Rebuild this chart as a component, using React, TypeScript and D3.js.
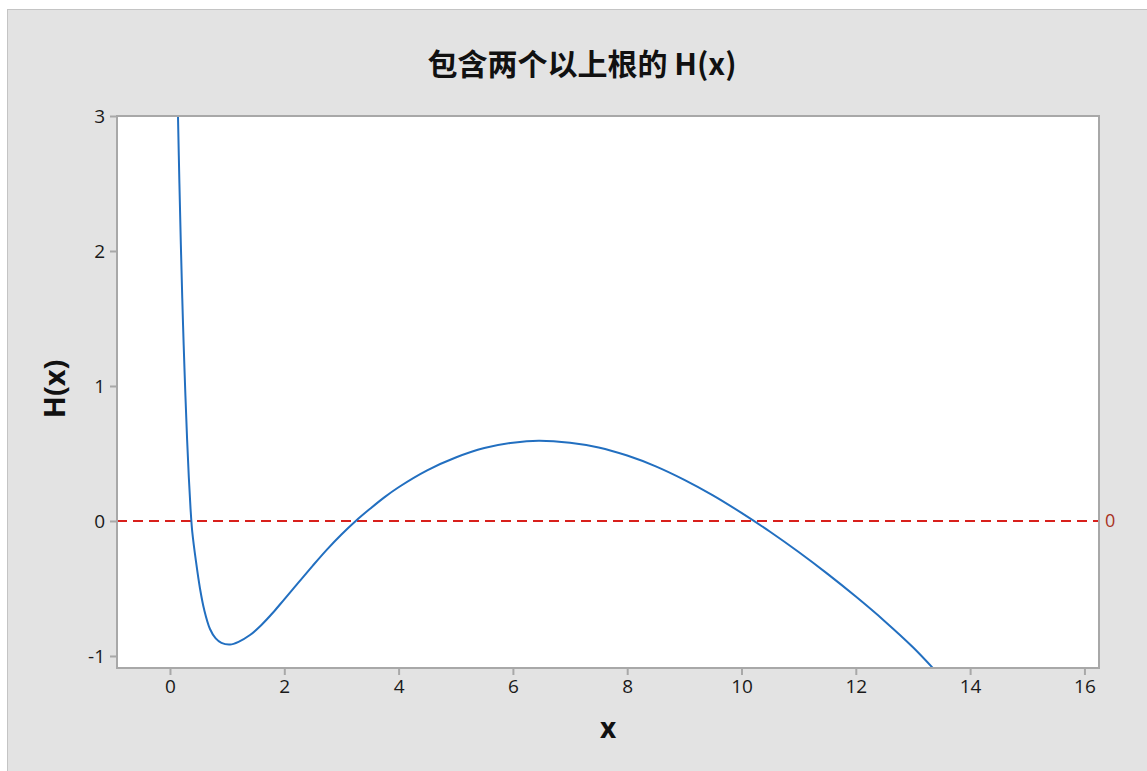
import React, { useEffect, useRef } from "react";
import * as d3 from "d3";

// H(x) values
const curveX = [
  0.14, 0.165, 0.19, 0.215, 0.24, 0.27, 0.3, 0.33, 0.36, 0.39, 0.455, 0.525,
  0.6, 0.7, 0.8, 0.9, 1.05, 1.2, 1.4, 1.6, 1.8, 2.0, 2.25, 2.5, 2.75, 3.0,
  3.25, 3.5, 3.75, 4.0, 4.5, 5.0, 5.5, 6.0, 6.45, 7.0, 7.5, 8.0, 8.5, 9.0,
  9.5, 10.0, 10.5, 11.0, 11.5, 12.0, 12.5, 13.0, 13.35,
];
const curveY = [
  3.0, 2.5, 2.05, 1.65, 1.3, 0.93, 0.6, 0.32, 0.09, -0.08, -0.3, -0.5, -0.66,
  -0.8, -0.87, -0.903, -0.915, -0.895, -0.845, -0.77, -0.68, -0.58, -0.455,
  -0.33, -0.21, -0.1, 0.0, 0.09, 0.175, 0.25, 0.375, 0.47, 0.54, 0.58, 0.595,
  0.58, 0.545, 0.485, 0.405, 0.305, 0.19, 0.06, -0.08, -0.23, -0.39, -0.56,
  -0.74, -0.935, -1.09,
];
const xTicks = [0, 2, 4, 6, 8, 10, 12, 14, 16];
const yTicks = [-1, 0, 1, 2, 3];
const refLines = [0];

const W = 1147;
const H = 771;
const plot = { left: 117, right: 1099, top: 116, bottom: 668 };

const App = () => {
  const ref = useRef<SVGSVGElement>(null);

  useEffect(() => {
    const svg = d3.select(ref.current);
    svg.selectAll("*").remove();

    const x = d3
      .scaleLinear()
      .domain([-0.927, 16.255])
      .range([plot.left, plot.right]);
    const y = d3
      .scaleLinear()
      .domain([-1.089, 3])
      .range([plot.bottom, plot.top]);

    // outer panel
    svg
      .append("rect")
      .attr("x", 7.5)
      .attr("y", 9.5)
      .attr("width", W)
      .attr("height", H)
      .attr("fill", "#e3e3e3")
      .attr("stroke", "#c4c4c4");

    svg
      .append("rect")
      .attr("x", plot.left)
      .attr("y", plot.top)
      .attr("width", plot.right - plot.left)
      .attr("height", plot.bottom - plot.top)
      .attr("fill", "#ffffff");

    svg
      .append("defs")
      .append("clipPath")
      .attr("id", "plotclip")
      .append("rect")
      .attr("x", plot.left)
      .attr("y", plot.top)
      .attr("width", plot.right - plot.left)
      .attr("height", plot.bottom - plot.top);

    // reference line
    refLines.forEach((v) => {
      svg
        .append("line")
        .attr("x1", plot.left)
        .attr("x2", plot.right)
        .attr("y1", y(v))
        .attr("y2", y(v))
        .attr("stroke", "#d8201c")
        .attr("stroke-width", 2)
        .attr("stroke-dasharray", "10,6");
      svg
        .append("text")
        .attr("x", plot.right + 6)
        .attr("y", y(v))
        .attr("dy", "0.35em")
        .attr("fill", "#a8321e")
        .attr("font-family", "'Open Sans', sans-serif")
        .attr("font-size", 18)
        .text(v);
    });

    // curve
    const pts = curveX.map((d, i) => [d, curveY[i]] as [number, number]);
    const line = d3
      .line<[number, number]>()
      .x((d) => x(d[0]))
      .y((d) => y(d[1]))
      .curve(d3.curveCatmullRom.alpha(0.5));
    svg
      .append("path")
      .attr("clip-path", "url(#plotclip)")
      .attr("d", line(pts))
      .attr("fill", "none")
      .attr("stroke", "#226fc0")
      .attr("stroke-width", 2);

    // frame
    svg
      .append("rect")
      .attr("x", plot.left)
      .attr("y", plot.top)
      .attr("width", plot.right - plot.left)
      .attr("height", plot.bottom - plot.top)
      .attr("fill", "none")
      .attr("stroke", "#a8a8a8")
      .attr("stroke-width", 2);

    const fmt = (d: d3.NumberValue) => String(d);
    const xAxis = svg
      .append("g")
      .attr("transform", `translate(0,${plot.bottom + 1})`)
      .call(
        d3.axisBottom(x).tickValues(xTicks).tickSize(6).tickPadding(5).tickFormat(fmt)
      );
    const yAxis = svg
      .append("g")
      .attr("transform", `translate(${plot.left - 1},0)`)
      .call(
        d3.axisLeft(y).tickValues(yTicks).tickSize(6).tickPadding(5).tickFormat(fmt)
      );
    [xAxis, yAxis].forEach((g) => {
      g.select(".domain").remove();
      g.selectAll(".tick line").attr("stroke", "#a8a8a8").attr("stroke-width", 2);
      g.selectAll(".tick text")
        .attr("fill", "#1a1a1a")
        .attr("font-family", "'Open Sans', sans-serif")
        .attr("font-size", 19);
    });

    // titles
    svg
      .append("text")
      .attr("x", 582)
      .attr("y", 75)
      .attr("text-anchor", "middle")
      .attr("font-family", "'Noto Sans CJK SC', 'Open Sans', sans-serif")
      .attr("font-weight", "bold")
      .attr("font-size", 30)
      .attr("fill", "#111")
      .text("包含两个以上根的 H(x)");
    svg
      .append("text")
      .attr("x", 608)
      .attr("y", 738)
      .attr("text-anchor", "middle")
      .attr("font-family", "'Open Sans', sans-serif")
      .attr("font-weight", "bold")
      .attr("font-size", 28)
      .attr("fill", "#111")
      .text("x");
    svg
      .append("text")
      .attr("transform", `translate(65,389) rotate(-90)`)
      .attr("text-anchor", "middle")
      .attr("font-family", "'Open Sans', sans-serif")
      .attr("font-weight", "bold")
      .attr("font-size", 29)
      .attr("fill", "#111")
      .text("H(x)");
  }, []);

  return (
    <svg
      ref={ref}
      width={W}
      height={H}
      style={{ position: "absolute", left: 0, top: 0, display: "block" }}
    />
  );
};

export default App;
